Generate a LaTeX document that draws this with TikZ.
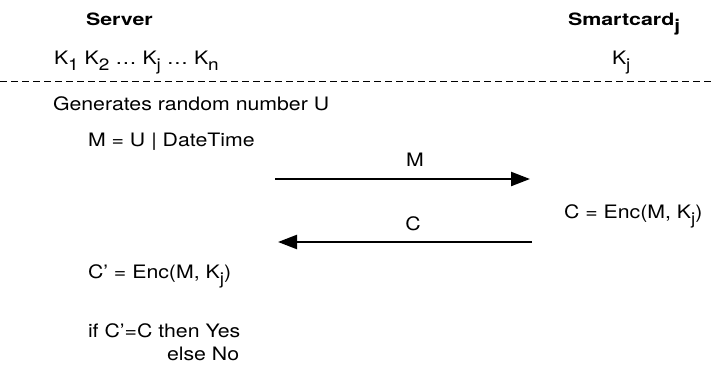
\documentclass[tikz,border=0pt]{standalone}
\usepackage{fontspec}
\setmainfont{TeX Gyre Heros}[FakeStretch=1.15,BoldFeatures={FakeStretch=1.26}]
\usetikzlibrary{arrows.meta}
\newcommand\mysub[1]{\raisebox{-0.36em}{\fontsize{16.5}{17}\selectfont #1}}
\tikzset{
  txt/.style={inner sep=0pt, outer sep=0pt, anchor=base west, font=\fontsize{18.5}{20}\selectfont},
  ctxt/.style={txt, anchor=base},
  head/.style={inner sep=0pt, outer sep=0pt, anchor=base west, font=\fontsize{17}{20}\selectfont\bfseries},
  msg/.style={line width=2.3pt, -{Triangle[length=19pt,width=14pt]}},
  sep/.style={line width=0.9pt, dash pattern=on 6.5pt off 4.5pt}
}
\begin{document}
\begin{tikzpicture}[x=1pt,y=-1pt]
\useasboundingbox (0,0) rectangle (711,364);
\node[head] (server) at (86,25) {Server};
\node[head] (card) at (568,25) {Smartcard\mysub{j}};
\node[txt] (keys) at (54,64) {K\mysub{1} K\mysub{2} … K\mysub{j} … K\mysub{n}};
\node[txt] (kj) at (612,64) {K\mysub{j}};
\coordinate (d1) at (0,81);
\coordinate (d2) at (711,81);
\draw[sep] (d1) -- (d2);
\node[txt] (gen) at (53,110) {Generates random number U};
\node[txt] (mdef) at (88,146) {M = U | DateTime};
\node[ctxt] (mlab) at (415,166) {M};
\coordinate (m1) at (275,179);
\coordinate (m2) at (530,179);
\draw[msg] (m1) -- (m2);
\node[txt] (cenc) at (564,218) {C = Enc(M, K\mysub{j})};
\node[ctxt] (clab) at (413,230) {C};
\coordinate (c1) at (532,242);
\coordinate (c2) at (278,242);
\draw[msg] (c1) -- (c2);
\node[txt] (cpenc) at (88,278) {C’ = Enc(M, K\mysub{j})};
\node[txt] (if) at (88,337) {if C’=C then Yes};
\node[txt] (else) at (167,360.5) {else No};
\end{tikzpicture}
\end{document}
